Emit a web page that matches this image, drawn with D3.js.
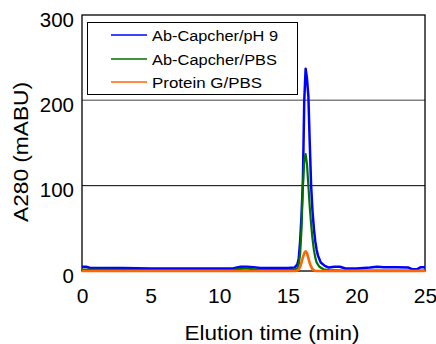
<!DOCTYPE html>
<html><head><meta charset="utf-8">
<script src="https://cdn.jsdelivr.net/npm/d3@7"></script>
<style>body{margin:0;background:#fff}svg{display:block}</style>
</head><body>
<script>
const seriesNames = ["Ab-Capcher/pH 9", "Ab-Capcher/PBS", "Protein G/PBS"];
const seriesColors = ["#0000ff", "#007000", "#ff6600"];
const xTicks = [0, 5, 10, 15, 20, 25];
const yTicks = [0, 100, 200, 300];

const blueT = [0,0.3,0.6,1,3,5,7,9,10,11,11.3,11.6,12,12.5,13,14,15,15.5,15.7,15.8,15.9,16.0,16.1,16.2,16.3,16.4,16.5,16.6,16.7,16.8,16.9,17.0,17.1,17.2,17.4,17.7,18,18.4,18.8,19.2,20,21,21.5,22,23,23.8,24.1,24.4,24.7,25];
const blueV = [5,5,3.5,3.5,3.5,3,3,3,3,3,4,5,5,4.5,3.5,3.5,3.5,4,8,15,35,65,105,200,237,225,205,150,100,70,50,35,25,18,10,6,4,5,5,3,3,4,5,4.5,4.5,4,2,2,4.5,4.5];
const greenT = [0,5,10,11,11.5,12,12.5,13,15,15.5,15.7,15.8,15.9,16.0,16.1,16.2,16.3,16.4,16.5,16.6,16.7,16.8,16.9,17.0,17.1,17.3,17.6,18,19,25];
const greenV = [1.5,1,1,1,2.5,3,2,1,1,1.5,3,8,20,50,100,130,137,125,100,75,55,38,25,16,10,5,2,1,0.5,0.5];
const orangeT = [0,10,15,15.6,15.8,15.9,16.0,16.1,16.2,16.3,16.4,16.5,16.6,16.7,16.8,16.9,17.0,20,25];
const orangeV = [0,0,0,0,2,5,10,16,21,23,21,15,9,5,2,1,0,0,0];

const W = 436, H = 344;
const m = {l: 82, r: 425, t: 15, b: 271};
const svg = d3.select("body").append("svg").attr("width", W).attr("height", H);
const x = d3.scaleLinear().domain([0, 25]).range([m.l, m.r]);
const y = d3.scaleLinear().domain([0, 300]).range([m.b, m.t]);
const numFont = "Liberation Sans, Arial, sans-serif";

// gridlines
svg.append("line").attr("x1", x(0)).attr("x2", x(25)).attr("y1", y(200)).attr("y2", y(200))
  .attr("stroke", "#808080").attr("stroke-width", 1.5);
svg.append("line").attr("x1", x(0)).attr("x2", x(25)).attr("y1", y(100)).attr("y2", y(100))
  .attr("stroke", "#000").attr("stroke-width", 1);

// frame
svg.append("rect").attr("x", x(0)).attr("y", y(300)).attr("width", x(25) - x(0)).attr("height", y(0) - y(300))
  .attr("fill", "none").attr("stroke", "#000").attr("stroke-width", 1.3);

// axes
const xAxis = d3.axisBottom(x).tickValues(xTicks).tickSize(0).tickPadding(0).tickFormat(d3.format("d"));
const gx = svg.append("g").attr("transform", `translate(0,${m.b})`).call(xAxis);
gx.select(".domain").remove();
gx.selectAll("text").attr("y", 17).attr("dy", "0.71em").attr("font-size", 21)
  .attr("font-family", numFont).attr("fill", "#000");
const yAxis = d3.axisLeft(y).tickValues(yTicks).tickSize(0).tickPadding(0).tickFormat(d3.format("d"));
const gy = svg.append("g").attr("transform", `translate(${m.l},0)`).call(yAxis);
gy.select(".domain").remove();
gy.selectAll("text").attr("x", -8).attr("dy", "0.55em").attr("font-size", 20.5)
  .attr("font-family", numFont).attr("fill", "#000");

// series
const line = d3.line().x(d => x(d[0])).y(d => y(d[1]));
const series = [
  d3.zip(blueT, blueV),
  d3.zip(greenT, greenV),
  d3.zip(orangeT, orangeV)
];
const widths = [2.5, 2.2, 2.6];
series.forEach((s, i) => {
  svg.append("path").datum(s).attr("d", line).attr("fill", "none")
    .attr("stroke", seriesColors[i]).attr("stroke-width", widths[i]).attr("stroke-linejoin", "round");
});

// legend
const lg = svg.append("g");
lg.append("rect").attr("x", 87.5).attr("y", 22.5).attr("width", 210).attr("height", 72)
  .attr("fill", "#fff").attr("stroke", "#000").attr("stroke-width", 1);
const rowsY = [35, 59, 82];
const legendLens = [126, 125, 110];
seriesNames.forEach((n, i) => {
  lg.append("line").attr("x1", 111).attr("x2", 147).attr("y1", rowsY[i]).attr("y2", rowsY[i])
    .attr("stroke", seriesColors[i]).attr("stroke-width", 1.3);
  lg.append("text").attr("x", 152).attr("y", rowsY[i] + 1).attr("dy", "0.35em").attr("font-size", 15.5)
    .attr("font-family", numFont).attr("textLength", legendLens[i]).attr("lengthAdjust", "spacingAndGlyphs").text(n);
});

// axis titles
svg.append("text").attr("x", 272).attr("y", 340).attr("text-anchor", "middle")
  .attr("font-size", 20.5).attr("font-family", numFont)
  .attr("textLength", 175).attr("lengthAdjust", "spacingAndGlyphs").text("Elution time (min)");
svg.append("text").attr("transform", "translate(27.5,152) rotate(-90)").attr("text-anchor", "middle")
  .attr("font-size", 19.5).attr("font-family", numFont)
  .attr("textLength", 140).attr("lengthAdjust", "spacingAndGlyphs").text("A280 (mABU)");
</script>
</body></html>
